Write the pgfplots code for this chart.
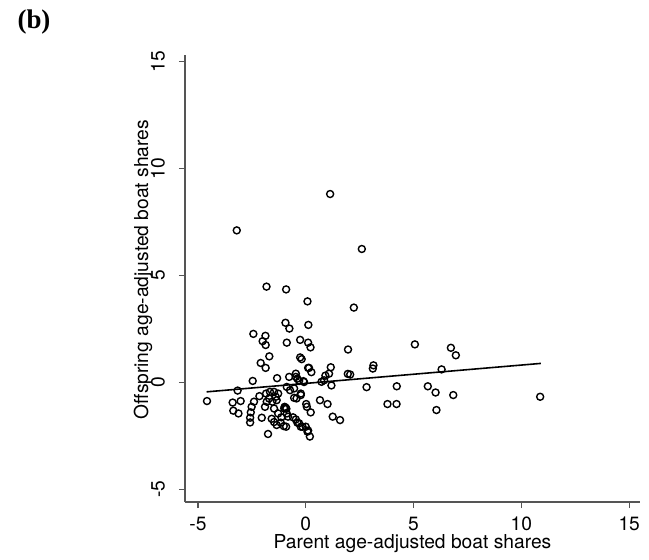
\documentclass[border=0pt]{standalone}
\usepackage{fontspec}
\setmainfont{TeX Gyre Heros}
\newfontfamily\seriffont{Liberation Serif}
\usepackage{pgfplots}
\pgfplotsset{compat=1.18}
\definecolor{axisgray}{HTML}{555555}

\begin{document}
\begin{tikzpicture}
\useasboundingbox (-92.5bp,-29bp) rectangle (232bp,251bp);
\node[font=\seriffont\bfseries\fontsize{13.5}{15}\selectfont] at (-75.5bp,240bp) {(b)};
\begin{axis}[
  scale only axis,
  width=227.5bp, height=223.5bp,
  at={(0,0)}, anchor=south west,
  axis lines=left,
  axis line style={axisgray, line width=0.6bp, -},
  xmin=-5.6, xmax=15.5,
  ymin=-5.6, ymax=15.3,
  xtick={-5,0,5,10,15},
  ytick={-5,0,5,10,15},
  tick align=outside,
  major tick length=3bp,
  tick style={axisgray, line width=0.6bp},
  font=\fontsize{9.65}{11.5}\selectfont,
  /pgf/number format/assume math mode=true,
  xticklabel style={yshift=-1bp},
  yticklabel style={rotate=90, anchor=south, yshift=3.5bp},
  xlabel={Parent age-adjusted boat shares},
  ylabel={Offspring age-adjusted boat shares},
  xlabel style={yshift=5bp},
  ylabel style={at={(axis description cs:-0.0923,0.52)}, anchor=center},
  clip=false,
]
\addplot[only marks, mark=o, mark size=1.75bp, mark options={line width=0.7bp, black}]
table {
1.13 8.80
-3.20 7.10
2.60 6.23
-1.82 4.47
-0.91 4.34
0.08 3.78
2.23 3.49
-0.94 2.78
-0.76 2.51
0.12 2.68
-2.43 2.26
-1.87 2.17
-2.00 1.92
-1.86 1.74
-0.88 1.85
-0.26 1.98
0.11 1.85
0.22 1.63
1.96 1.53
-1.69 1.21
-0.26 1.16
-0.19 1.08
-2.09 0.90
-1.86 0.67
0.11 0.67
0.26 0.47
1.16 0.70
1.08 0.40
0.91 0.31
1.95 0.39
2.06 0.36
3.14 0.79
3.11 0.64
-0.46 0.40
-0.46 0.25
-0.77 0.25
-1.33 0.19
-2.46 0.06
-0.31 0.06
-0.08 0.01
0.73 0.02
0.85 0.09
1.19 -0.15
2.82 -0.23
-3.16 -0.39
-4.58 -0.88
-0.88 -0.22
-0.73 -0.37
-0.54 -0.29
-1.28 -0.53
-1.66 -0.45
-1.84 -0.53
-2.15 -0.65
-2.40 -0.91
-3.39 -0.95
-3.02 -0.88
-2.51 -1.15
-3.36 -1.33
-3.12 -1.46
-2.55 -1.41
-2.58 -1.66
-2.58 -1.88
-2.04 -1.66
-1.89 -1.15
-1.81 -0.91
-1.55 -0.91
-1.35 -0.84
-1.47 -1.23
-1.58 -1.71
-1.47 -1.86
-1.35 -2.00
-1.13 -1.64
-1.28 -1.46
-0.93 -1.19
-0.98 -1.15
-0.90 -1.24
-1.00 -1.22
-0.88 -1.46
-0.82 -1.61
-0.91 -2.08
-1.16 -1.89
-1.75 -2.42
-0.43 -0.76
-0.23 -0.53
0.02 -1.02
0.05 -1.15
0.23 -1.41
-0.59 -1.64
-0.46 -1.74
-0.39 -1.89
-0.23 -2.08
0.00 -2.08
0.11 -2.26
0.19 -2.54
0.66 -0.84
1.01 -1.02
1.25 -1.61
1.59 -1.77
5.06 1.77
6.73 1.61
6.96 1.26
6.30 0.60
4.22 -0.19
5.66 -0.19
6.02 -0.48
6.84 -0.60
10.87 -0.68
3.79 -1.02
4.21 -1.02
6.06 -1.30
-0.39 0.17
-0.11 0.05
0.15 0.67
-0.54 -0.73
-0.23 -0.60
-0.31 -1.92
-0.15 -2.08
0.08 -2.31
-1.70 -0.76
-1.47 -0.45
-1.39 -0.68
-1.02 -2.05
};
\addplot[black, line width=0.8bp] table {
-4.60 -0.45
10.90 0.88
};
\end{axis}
\end{tikzpicture}
\end{document}
